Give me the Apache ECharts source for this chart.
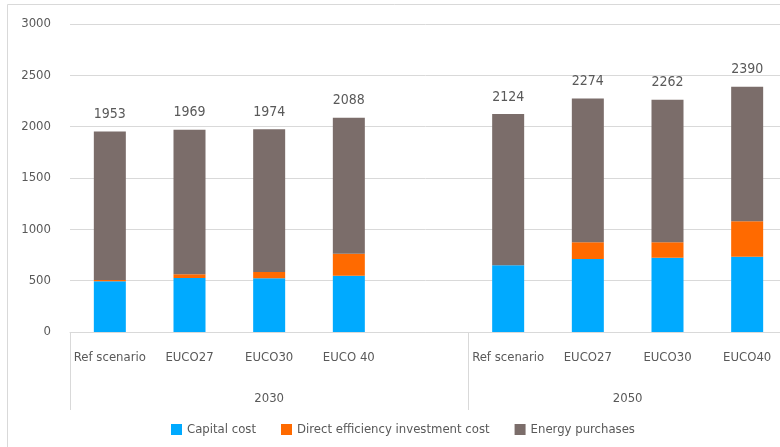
<!DOCTYPE html>
<html>
<head>
<meta charset="utf-8">
<script src="https://cdn.jsdelivr.net/npm/echarts@6/dist/echarts.min.js"></script>
<style>
  html, body { margin: 0; padding: 0; background: #fff; }
  #chart { width: 780px; height: 447px; }
</style>
</head>
<body>
<div id="chart"></div>
<script>
var scenarios = ['Ref scenario', 'EUCO27', 'EUCO30', 'EUCO 40'];
var scenarios2050 = ['Ref scenario', 'EUCO27', 'EUCO30', 'EUCO40'];
var years = ['2030', '2050'];

var capital2030 = [495, 526, 523, 549];
var efficiency2030 = [12, 36, 61, 214];
var energy2030 = [1446, 1407, 1390, 1325];
var totals2030 = [1953, 1969, 1974, 2088];

var capital2050 = [649, 711, 724, 734];
var efficiency2050 = [0, 162, 149, 344];
var energy2050 = [1475, 1401, 1389, 1312];
var totals2050 = [2124, 2274, 2262, 2390];

var yTicks = [0, 500, 1000, 1500, 2000, 2500, 3000];

// one empty slot between the two year groups
function join(a, b) { return a.concat([null], b); }
var categories = scenarios.concat([''], scenarios2050);
var totals = join(totals2030, totals2050);

var font = "'DejaVu Sans Condensed', 'Liberation Sans Narrow', sans-serif";
var textColor = '#595959';
var lineColor = '#d9d9d9';

var myChart = echarts.init(document.getElementById('chart'));
var option = {
    backgroundColor: '#fff',
    animation: false,
    textStyle: { fontFamily: font },
    graphic: [{
        type: 'rect',
        shape: { x: 7.5, y: 4.5, width: 800, height: 500 },
        style: { fill: 'none', stroke: lineColor, lineWidth: 1 },
        silent: true
    }],
    legend: {
        left: 166,
        top: 418,
        icon: 'rect',
        itemWidth: 11,
        itemHeight: 11,
        itemGap: 25,
        textStyle: { color: textColor, fontSize: 13, fontFamily: font },
        data: ['Capital cost', 'Direct efficiency investment cost', 'Energy purchases']
    },
    // plot runs past the right edge, the picture is cropped there
    grid: { left: 70, width: 717, top: 24, bottom: 115, outerBoundsMode: 'none' },
    xAxis: [{
        type: 'category',
        data: categories,
        axisLine: { lineStyle: { color: lineColor } },
        axisTick: { show: false },
        axisLabel: { color: textColor, fontSize: 13, margin: 19, interval: 0 }
    }, {
        type: 'value',
        position: 'bottom',
        min: 0,
        max: categories.length,
        axisLine: { show: false },
        splitLine: { show: false },
        axisTick: {
            show: true,
            customValues: [0, 5, 9],
            length: 78,
            lineStyle: { color: lineColor }
        },
        axisLabel: {
            color: textColor,
            fontSize: 13,
            margin: 60,
            customValues: [2.5, 7],
            formatter: function (v) { return v < 5 ? years[0] : years[1]; }
        }
    }],
    yAxis: {
        type: 'value',
        min: yTicks[0],
        max: yTicks[yTicks.length - 1],
        interval: 500,
        axisLine: { show: false },
        axisTick: { show: false },
        axisLabel: {
            color: textColor, fontSize: 13, margin: 19,
            formatter: function (v) { return String(v); }
        },
        splitLine: { lineStyle: { color: lineColor } }
    },
    series: [{
        name: 'Capital cost',
        type: 'bar',
        stack: 'total',
        barWidth: 32,
        itemStyle: { color: '#00aaff' },
        data: join(capital2030, capital2050)
    }, {
        name: 'Direct efficiency investment cost',
        type: 'bar',
        stack: 'total',
        barWidth: 32,
        itemStyle: { color: '#ff6a00' },
        data: join(efficiency2030, efficiency2050)
    }, {
        name: 'Energy purchases',
        type: 'bar',
        stack: 'total',
        barWidth: 32,
        itemStyle: { color: '#7b6d6a' },
        label: {
            show: true,
            position: 'top',
            distance: 10,
            color: textColor,
            fontSize: 14,
            formatter: function (p) { return totals[p.dataIndex]; }
        },
        data: join(energy2030, energy2050)
    }]
};
myChart.setOption(option);
</script>
</body>
</html>
